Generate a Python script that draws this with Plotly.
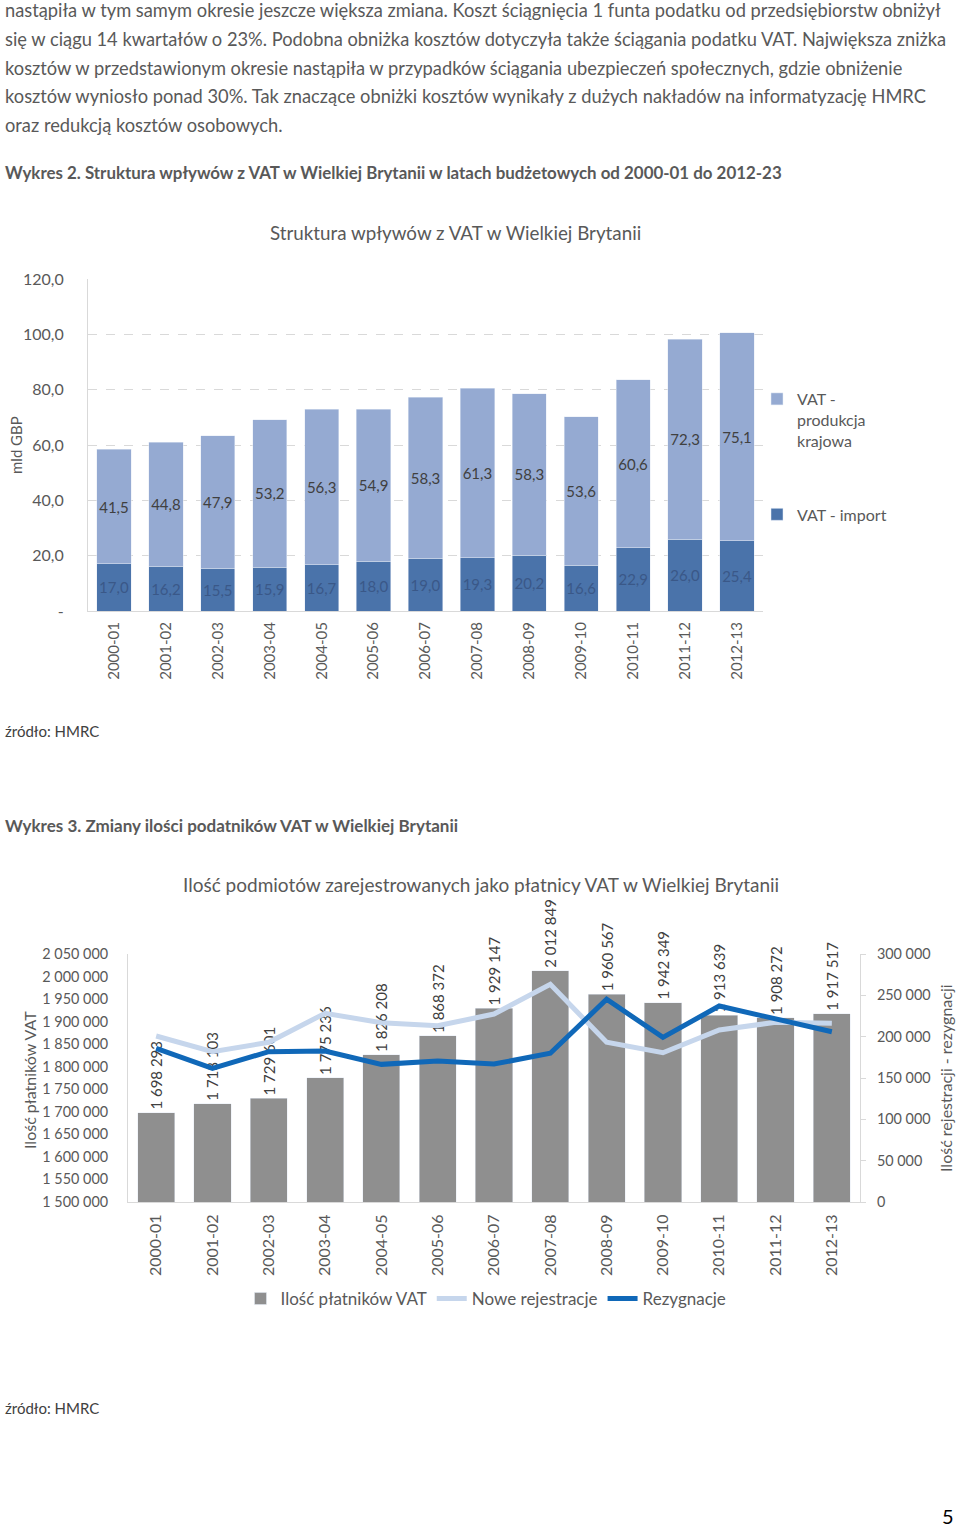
import plotly.graph_objects as go

W, H = 960, 1528
def px(x): return x / W
def py(y): return 1 - y / H

FONT = "Lato"
GRAY = "#595959"

# ---------- data: chart 2 ----------
years = ["2000-01", "2001-02", "2002-03", "2003-04", "2004-05", "2005-06", "2006-07",
         "2007-08", "2008-09", "2009-10", "2010-11", "2011-12", "2012-13"]
vat_import = [17.0, 16.2, 15.5, 15.9, 16.7, 18.0, 19.0, 19.3, 20.2, 16.6, 22.9, 26.0, 25.4]
vat_domestic = [41.5, 44.8, 47.9, 53.2, 56.3, 54.9, 58.3, 61.3, 58.3, 53.6, 60.6, 72.3, 75.1]
y2_tickvals = [0, 20, 40, 60, 80, 100, 120]
y2_ticktext = ["-", "20,0", "40,0", "60,0", "80,0", "100,0", "120,0"]

# ---------- data: chart 3 ----------
vat_payers = [1698293, 1718103, 1729601, 1775236, 1826208, 1868372, 1929147,
              2012849, 1960567, 1942349, 1913639, 1908272, 1917517]
new_reg = [200800, 181800, 193200, 228300, 216900, 213300, 227400,
           263400, 193200, 180600, 208100, 217400, 216200]
dereg = [185900, 161700, 181800, 182700, 166500, 170600, 166900,
         179900, 245200, 199200, 237100, 222200, 206000]

paragraph = [
    "nastąpiła w tym samym okresie jeszcze większa zmiana. Koszt ściągnięcia 1 funta podatku od przedsiębiorstw obniżył",
    "się w ciągu 14 kwartałów o 23%. Podobna obniżka kosztów dotyczyła także ściągania podatku VAT. Największa zniżka",
    "kosztów w przedstawionym okresie nastąpiła w przypadków ściągania ubezpieczeń społecznych, gdzie obniżenie",
    "kosztów wyniosło ponad 30%. Tak znaczące obniżki kosztów wynikały z dużych nakładów na informatyzację HMRC",
    "oraz redukcją kosztów osobowych.",
]

fig = go.Figure()

fig.add_trace(go.Bar(
    x=years, y=vat_import, name="VAT - import", marker_color="#4A73AA",
    text=vat_import, texttemplate="%{y:.1f}", textposition="inside",
    insidetextanchor="middle", textangle=0, constraintext="none",
    textfont=dict(family=FONT, size=15, color="#3A5888"),
    xaxis="x", yaxis="y", legend="legend", legendgroup="imp", legendrank=2))
fig.add_trace(go.Bar(
    x=years, y=vat_domestic, name="VAT -<br>produkcja<br>krajowa", marker_color="#95AAD2",
    text=vat_domestic, texttemplate="%{y:.1f}", textposition="inside",
    insidetextanchor="middle", textangle=0, constraintext="none",
    textfont=dict(family=FONT, size=15, color="#404040"),
    xaxis="x", yaxis="y", legend="legend", legendgroup="dom", legendrank=1))

fig.add_trace(go.Bar(
    x=years, y=vat_payers, name="Ilość płatników VAT", marker_color="#8F8F8F",
    text=vat_payers, texttemplate="%{y:,.0f}", textposition="outside",
    textangle=-90, constraintext="none", cliponaxis=False,
    textfont=dict(family=FONT, size=15, color="#404040"),
    xaxis="x2", yaxis="y2", legend="legend2"))
fig.add_trace(go.Scatter(
    x=years, y=new_reg, name="Nowe rejestracje", mode="lines",
    line=dict(color="#C6D6EC", width=5),
    xaxis="x2", yaxis="y3", legend="legend2"))
fig.add_trace(go.Scatter(
    x=years, y=dereg, name="Rezygnacje", mode="lines",
    line=dict(color="#1068B8", width=5),
    xaxis="x2", yaxis="y3", legend="legend2"))

axfont = dict(family=FONT, size=16, color=GRAY)
axfont3 = dict(family=FONT, size=14.4, color=GRAY)

fig.update_layout(
    width=W, height=H, margin=dict(l=0, r=0, t=0, b=0, autoexpand=False),
    paper_bgcolor="white", plot_bgcolor="white",
    separators=", ", barmode="stack", bargap=0.34,
    font=dict(family=FONT, color=GRAY),
    xaxis=dict(domain=[px(88), px(763)], anchor="y", type="category", tickangle=-90,
               tickfont=dict(family=FONT, size=15, color=GRAY), automargin=False,
               showline=True, linecolor="#D9D9D9", linewidth=1,
               showgrid=False, ticks="", ticklabelstandoff=4),
    yaxis=dict(domain=[py(611), py(279)], anchor="x", range=[0, 120], automargin=False,
               tickvals=y2_tickvals, ticktext=y2_ticktext,
               tickfont=axfont, showline=True, linecolor="#D9D9D9",
               showgrid=True, gridcolor="#D9D9D9", griddash="dash", gridwidth=1,
               zeroline=False, ticks="", ticklabelstandoff=20),
    xaxis2=dict(domain=[px(128), px(860)], anchor="y2", type="category", tickangle=-90,
                tickfont=dict(family=FONT, size=16, color=GRAY), automargin=False,
                showline=True, linecolor="#D9D9D9", linewidth=1,
                showgrid=False, ticks="", ticklabelstandoff=5),
    yaxis2=dict(domain=[py(1202), py(954)], anchor="x2", range=[1500000, 2050000],
                dtick=50000, tickformat=",.0f", tickfont=axfont3, automargin=False,
                showline=True, linecolor="#D9D9D9", showgrid=False,
                zeroline=False, ticks="", ticklabelstandoff=16),
    yaxis3=dict(domain=[py(1202), py(954)], anchor="x2", overlaying="y2", side="right",
                range=[0, 300000], dtick=50000, tickformat=",.0f", tickfont=axfont3,
                automargin=False,
                showline=True, linecolor="#D9D9D9", showgrid=False, zeroline=False,
                ticks="outside", ticklen=5, tickcolor="#D9D9D9", ticklabelstandoff=8),
    legend=dict(x=px(757), y=py(382), xanchor="left", yanchor="top",
                font=dict(family=FONT, size=16, color=GRAY),
                traceorder="grouped", tracegroupgap=50, valign="top",
                bgcolor="rgba(0,0,0,0)"),
    legend2=dict(x=px(486), y=py(1299), xanchor="center", yanchor="middle",
                 orientation="h", traceorder="normal",
                 font=dict(family=FONT, size=17, color=GRAY),
                 bgcolor="rgba(0,0,0,0)"),
)

ann = []
for i, line in enumerate(paragraph):
    ann.append(dict(text=line, x=px(3), y=py(10 + i * 28.8), xanchor="left",
                    font=dict(family=FONT, size=18.3, color=GRAY)))
ann += [
    dict(text="<b>Wykres 2. Struktura wpływów z VAT w Wielkiej Brytanii w latach budżetowych od 2000-01 do 2012-23</b>",
         x=px(3), y=py(172), xanchor="left", font=dict(family=FONT, size=16.9, color=GRAY)),
    dict(text="Struktura wpływów z VAT w Wielkiej Brytanii", x=px(455), y=py(232),
         xanchor="center", font=dict(family=FONT, size=18.8, color=GRAY)),
    dict(text="mld GBP", x=px(16), y=py(445), xanchor="center", textangle=-90,
         font=dict(family=FONT, size=15, color=GRAY)),
    dict(text="źródło: HMRC", x=px(3), y=py(731), xanchor="left",
         font=dict(family=FONT, size=15, color="#404040")),
    dict(text="<b>Wykres 3. Zmiany ilości podatników VAT w Wielkiej Brytanii</b>",
         x=px(3), y=py(825), xanchor="left", font=dict(family=FONT, size=17, color=GRAY)),
    dict(text="Ilość podmiotów zarejestrowanych jako płatnicy VAT w Wielkiej Brytanii",
         x=px(481), y=py(884), xanchor="center", font=dict(family=FONT, size=19, color=GRAY)),
    dict(text="Ilość płatników VAT", x=px(29), y=py(1080), xanchor="center", textangle=-90,
         font=dict(family=FONT, size=16, color=GRAY)),
    dict(text="Ilość rejestracji - rezygnacji", x=px(945), y=py(1078), xanchor="center",
         textangle=-90, font=dict(family=FONT, size=16, color=GRAY)),
    dict(text="źródło: HMRC", x=px(3), y=py(1408), xanchor="left",
         font=dict(family=FONT, size=15, color="#404040")),
    dict(text="5", x=px(956), y=py(1516), xanchor="right",
         font=dict(family=FONT, size=20, color="#000000")),
]
for a in ann:
    a.setdefault("xref", "paper")
    a.setdefault("yref", "paper")
    a.setdefault("yanchor", "middle")
    a.setdefault("showarrow", False)
fig.update_layout(annotations=ann)

fig.write_html(
    "out.html",
    config={"displayModeBar": False},
    post_script="document.body.style.margin='0';document.body.style.padding='0';",
)
